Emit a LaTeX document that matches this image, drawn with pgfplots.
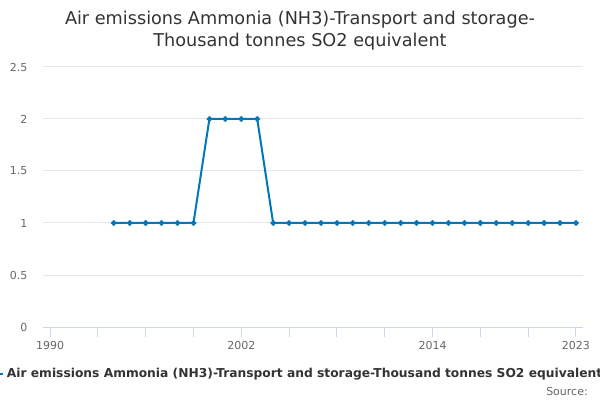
\documentclass[border=0pt]{standalone}
\usepackage{pgfplots}
\pgfplotsset{compat=1.18}
\usepackage{fontspec}
\setmainfont{DejaVu Sans}
\definecolor{series}{RGB}{0,118,189}
\definecolor{gridc}{RGB}{230,230,230}
\definecolor{axisline}{RGB}{204,214,235}
\definecolor{ticktext}{RGB}{102,102,102}
\definecolor{titletext}{RGB}{51,51,51}
\begin{document}
\begin{tikzpicture}
\useasboundingbox (0,0) rectangle (450pt,300pt);
\begin{axis}[
    at={(32.25pt,54.75pt)}, anchor=south west,
    width=405pt, height=195pt, scale only axis,
    xmin=1989.56, xmax=2023.44,
    ymin=0, ymax=2.5,
    xtick={1990,1993,...,2023},
    xticklabels={1990,,,,2002,,,,2014,,,2023},
    ytick={0,0.5,1,1.5,2,2.5},
    yticklabels={0,0.5,1,1.5,2,2.5},
    axis x line*=bottom, axis y line*=left,
    x axis line style={axisline, line width=0.75pt, -},
    y axis line style={draw=none},
    tick align=outside,
    major tick length=7.5pt,
    xtick style={axisline, line width=0.75pt},
    ytick style={draw=none},
    ymajorgrids, grid style={gridc, line width=0.75pt},
    tick label style={font=\fontsize{8.25}{10}\selectfont, text=ticktext},
    yticklabel style={anchor=east, inner sep=0pt, xshift=-4pt},
    /pgf/number format/assume math mode=true,
    clip=false,
    legend style={at={(axis description cs:-0.1056,-0.181)}, anchor=west,
        draw=none, fill=none, inner sep=0pt,
        font=\bfseries\fontsize{9.2}{11}\selectfont, text=titletext},
    legend image code/.code={\draw[series, line width=1.5pt] (0pt,0pt) -- (12pt,0pt);},
]
\addplot[series, line width=1.5pt, mark=*, mark size=1.3pt] coordinates {
    (1994,1) (1995,1) (1996,1) (1997,1) (1998,1) (1999,1)
    (2000,2) (2001,2) (2002,2) (2003,2)
    (2004,1) (2005,1) (2006,1) (2007,1) (2008,1) (2009,1) (2010,1)
    (2011,1) (2012,1) (2013,1) (2014,1) (2015,1) (2016,1) (2017,1)
    (2018,1) (2019,1) (2020,1) (2021,1) (2022,1) (2023,1)
};
\legend{Air emissions Ammonia (NH3)-Transport and storage-Thousand tonnes SO2 equivalent}
\end{axis}
\node[align=center, font=\fontsize{13.25}{16.5}\selectfont, text=titletext]
    at (225pt,276.75pt) {Air emissions Ammonia (NH3)-Transport and storage-\\Thousand tonnes SO2 equivalent};
\node[anchor=east, inner sep=0pt, font=\fontsize{8.25}{10}\selectfont, text=ticktext]
    at (441pt,6.75pt) {Source:};
\end{tikzpicture}
\end{document}
